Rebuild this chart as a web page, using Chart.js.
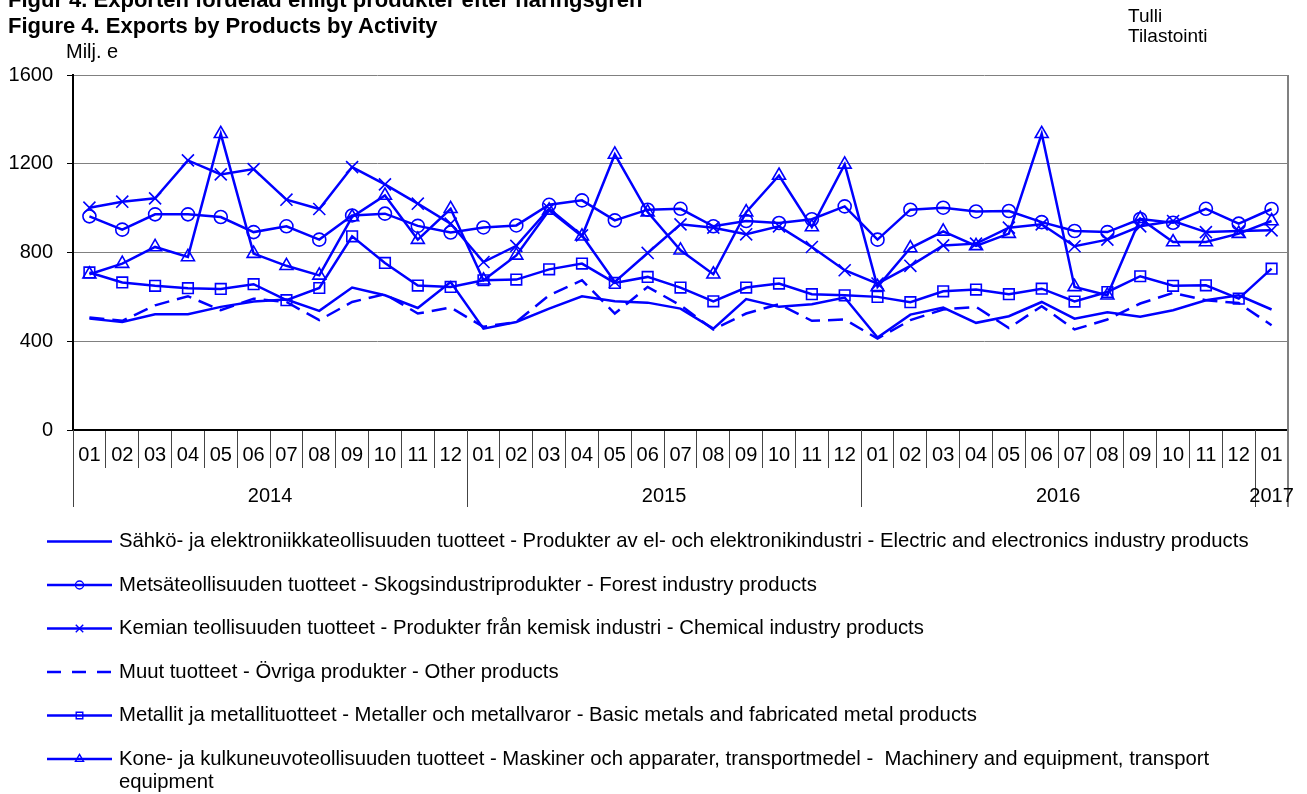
<!DOCTYPE html>
<html lang="fi">
<head>
  <meta charset="UTF-8">
  <title>Figure 4. Exports by Products by Activity</title>
  <script src="https://cdn.jsdelivr.net/npm/chart.js"></script>
  <style>
    body {
      margin: 0;
      background: #fff;
      font-family: 'Liberation Sans', Arial, sans-serif;
    }
    .page {
      position: relative;
      width: 1307px;
      height: 794px;
      overflow: hidden;
    }
    .txt {
      position: absolute;
      white-space: nowrap;
      color: #000;
    }
    .title {
      left: 8px;
      font-size: 22px;
      line-height: 22px;
      font-weight: bold;
    }
    .unit {
      left: 66px;
      top: 41px;
      font-size: 20px;
      line-height: 20px;
    }
    .source {
      left: 1128px;
      top: 6px;
      font-size: 19px;
      line-height: 20px;
    }
    canvas {
      position: absolute;
      left: 0;
      top: 0;
    }
  </style>
</head>
<body>
<div class="page">
  <canvas id="exportChart" width="1307" height="794"></canvas>
  <div class="txt title" style="top:-11px">Figur 4. Exporten fördelad enligt produkter efter näringsgren</div>
  <div class="txt title" style="top:15px">Figure 4. Exports by Products by Activity</div>
  <div class="txt unit">Milj. e</div>
  <div class="txt source">Tulli<br>Tilastointi</div>
</div>

<script>
  // months 2014-01 ... 2017-01
  const months = ['01','02','03','04','05','06','07','08','09','10','11','12',
                  '01','02','03','04','05','06','07','08','09','10','11','12',
                  '01','02','03','04','05','06','07','08','09','10','11','12',
                  '01'];
  const years = ['2014', '2015', '2016', '2017'];
  const yearStart = [0, 12, 24, 36];
  const yTicks = [0, 400, 800, 1200, 1600];

  const seriesNames = [
    'Sähkö- ja elektroniikkateollisuuden tuotteet - Produkter av el- och elektronikindustri - Electric and electronics industry products',
    'Metsäteollisuuden tuotteet - Skogsindustriprodukter - Forest industry products',
    'Kemian teollisuuden tuotteet - Produkter från kemisk industri - Chemical industry products',
    'Muut tuotteet - Övriga produkter - Other products',
    'Metallit ja metallituotteet - Metaller och metallvaror - Basic metals and fabricated metal products',
    'Kone- ja kulkuneuvoteollisuuden tuotteet - Maskiner och apparater, transportmedel -  Machinery and equipment, transport equipment'
  ];

  const electric = [502, 487, 522, 522, 555, 579, 588, 537, 642, 607, 550, 667,
                    457, 487, 547, 603, 580, 574, 547, 457, 590, 555, 567, 597,
                    417, 520, 552, 483, 513, 577, 502, 531, 510, 540, 585, 607,
                    543];
  const forest = [963, 903, 972, 972, 960, 892, 918, 858, 967, 975, 920, 890,
                  913, 922, 1015, 1035, 945, 993, 997, 918, 942, 933, 950, 1008,
                  858, 993, 1002, 985, 987, 937, 897, 892, 951, 934, 997, 930,
                  996];
  const chemical = [1002, 1029, 1044, 1215, 1152, 1176, 1038, 996, 1185, 1107, 1020, 930,
                    757, 830, 997, 877, 667, 798, 927, 912, 882, 918, 825, 720,
                    660, 740, 832, 840, 912, 927, 828, 858, 918, 942, 892, 897,
                    900];
  const other = [507, 492, 562, 603, 540, 592, 577, 495, 577, 612, 525, 552,
                 465, 487, 607, 675, 525, 645, 562, 453, 525, 567, 492, 498,
                 412, 495, 543, 555, 460, 558, 453, 498, 570, 618, 585, 572,
                 472];
  const metals = [710, 665, 650, 639, 636, 657, 585, 640, 873, 753, 651, 645,
                  675, 678, 724, 750, 663, 690, 642, 580, 642, 660, 612, 607,
                  600, 576, 625, 633, 612, 637, 579, 622, 693, 650, 652, 592,
                  727];
  const machinery = [702, 750, 825, 780, 1335, 795, 740, 697, 960, 1057, 858, 997,
                     675, 787, 990, 873, 1242, 982, 810, 702, 982, 1147, 915, 1197,
                     645, 820, 895, 830, 885, 1335, 645, 607, 952, 847, 847, 885,
                     942];

  const BLUE = '#0000ff';
  const FONT = "'Liberation Sans', Arial, sans-serif";

  function series(label, data, style, radius, dash) {
    return {
      label: label,
      data: data,
      borderColor: BLUE,
      backgroundColor: 'rgba(0,0,0,0)',
      borderWidth: 2.5,
      borderDash: dash || [],
      pointStyle: style || 'circle',
      pointRadius: style ? radius : 0,
      pointBorderColor: BLUE,
      pointBackgroundColor: 'rgba(0,0,0,0)',
      pointBorderWidth: 1.6,
      tension: 0,
      fill: false
    };
  }

  // draw marker the same way the chart does
  function marker(ctx, style, r, x, y) {
    ctx.save();
    ctx.strokeStyle = BLUE;
    ctx.fillStyle = 'rgba(0,0,0,0)';
    ctx.lineWidth = 1.4;
    ctx.setLineDash([]);
    Chart.helpers.drawPoint(ctx, {pointStyle: style, radius: r, rotation: 0, borderWidth: 1.4}, x, y);
    ctx.restore();
  }

  // year row under the months + frame on the right
  const yearAxis = {
    id: 'yearAxis',
    afterDraw(chart) {
      const ctx = chart.ctx;
      const xs = chart.scales.x;
      const area = chart.chartArea;
      const half = (xs.getPixelForValue(1) - xs.getPixelForValue(0)) / 2;
      const bottom = area.bottom + 77;

      ctx.save();
      ctx.strokeStyle = '#808080';
      ctx.lineWidth = 2;
      ctx.beginPath();
      ctx.moveTo(area.right, area.top);
      ctx.lineTo(area.right, bottom);
      ctx.stroke();

      ctx.strokeStyle = '#444';
      ctx.lineWidth = 1;
      yearStart.forEach(i => {
        const x = Math.round(xs.getPixelForValue(i) - half) + 0.5;
        ctx.beginPath();
        ctx.moveTo(x, area.bottom);
        ctx.lineTo(x, bottom);
        ctx.stroke();
      });

      ctx.fillStyle = '#000';
      ctx.font = '20px ' + FONT;
      ctx.textAlign = 'center';
      ctx.textBaseline = 'middle';
      years.forEach((yr, k) => {
        const a = yearStart[k];
        const b = (k + 1 < yearStart.length ? yearStart[k + 1] : months.length) - 1;
        const cx = (xs.getPixelForValue(a) + xs.getPixelForValue(b)) / 2;
        ctx.fillText(yr, cx, area.bottom + 66);
      });
      ctx.restore();
    }
  };

  // legend drawn as line sample + marker + wrapped text
  const lineLegend = {
    id: 'lineLegend',
    afterDraw(chart) {
      const ctx = chart.ctx;
      const x0 = 47, x1 = 112, tx = 119, maxW = 1130;
      const top = 541.5, step = 43.5, lineH = 23;
      ctx.save();
      ctx.font = '20.3px ' + FONT;
      ctx.textBaseline = 'middle';
      ctx.fillStyle = '#000';
      chart.data.datasets.forEach((ds, i) => {
        const y = top + i * step;
        ctx.strokeStyle = BLUE;
        ctx.lineWidth = 2.5;
        ctx.setLineDash(ds.borderDash.length ? [14, 11] : []);
        ctx.beginPath();
        ctx.moveTo(x0, y);
        ctx.lineTo(x1, y);
        ctx.stroke();
        if (ds.pointRadius > 0) marker(ctx, ds.pointStyle, ds.pointRadius * 0.62, (x0 + x1) / 2, y);

        // simple word wrap
        const words = ds.label.split(' ');
        let line = '', ly = y;
        words.forEach(w => {
          const test = line ? line + ' ' + w : w;
          if (ctx.measureText(test).width > maxW && line) {
            ctx.fillText(line, tx, ly);
            line = w;
            ly += lineH;
          } else {
            line = test;
          }
        });
        ctx.fillText(line, tx, ly);
      });
      ctx.restore();
    }
  };

  const ctx = document.getElementById('exportChart').getContext('2d');
  const exportChart = new Chart(ctx, {
    type: 'line',
    data: {
      labels: months,
      datasets: [
        series(seriesNames[0], electric),
        series(seriesNames[1], forest, 'circle', 6.5),
        series(seriesNames[2], chemical, 'crossRot', 8.5),
        series(seriesNames[3], other, null, 0, [15, 8]),
        series(seriesNames[4], metals, 'rect', 7.5),
        series(seriesNames[5], machinery, 'triangle', 7.5)
      ]
    },
    options: {
      responsive: false,
      animation: false,
      layout: {
        padding: {left: 0, right: 19, top: 75, bottom: 0}
      },
      plugins: {
        legend: {display: false},
        tooltip: {enabled: false},
        title: {display: false}
      },
      scales: {
        x: {
          type: 'category',
          offset: true,
          grid: {
            offset: true,
            drawOnChartArea: false,
            tickLength: 38,
            tickColor: '#444',
            color: '#444',
            lineWidth: 1
          },
          border: {color: '#000', width: 2},
          ticks: {
            color: '#000',
            font: {family: FONT, size: 20},
            padding: -25,
            maxRotation: 0,
            autoSkip: false
          },
          afterFit(scale) { scale.height = 364; }
        },
        y: {
          min: 0,
          max: 1600,
          afterBuildTicks(scale) { scale.ticks = yTicks.map(v => ({value: v})); },
          grid: {
            color: '#808080',
            lineWidth: 1,
            tickLength: 6,
            tickColor: '#000'
          },
          border: {color: '#000', width: 2},
          ticks: {
            color: '#000',
            font: {family: FONT, size: 20},
            padding: 14,
            callback: v => String(v)
          },
          afterFit(scale) { scale.width = 73; }
        }
      }
    },
    plugins: [yearAxis, lineLegend]
  });
</script>
</body>
</html>
